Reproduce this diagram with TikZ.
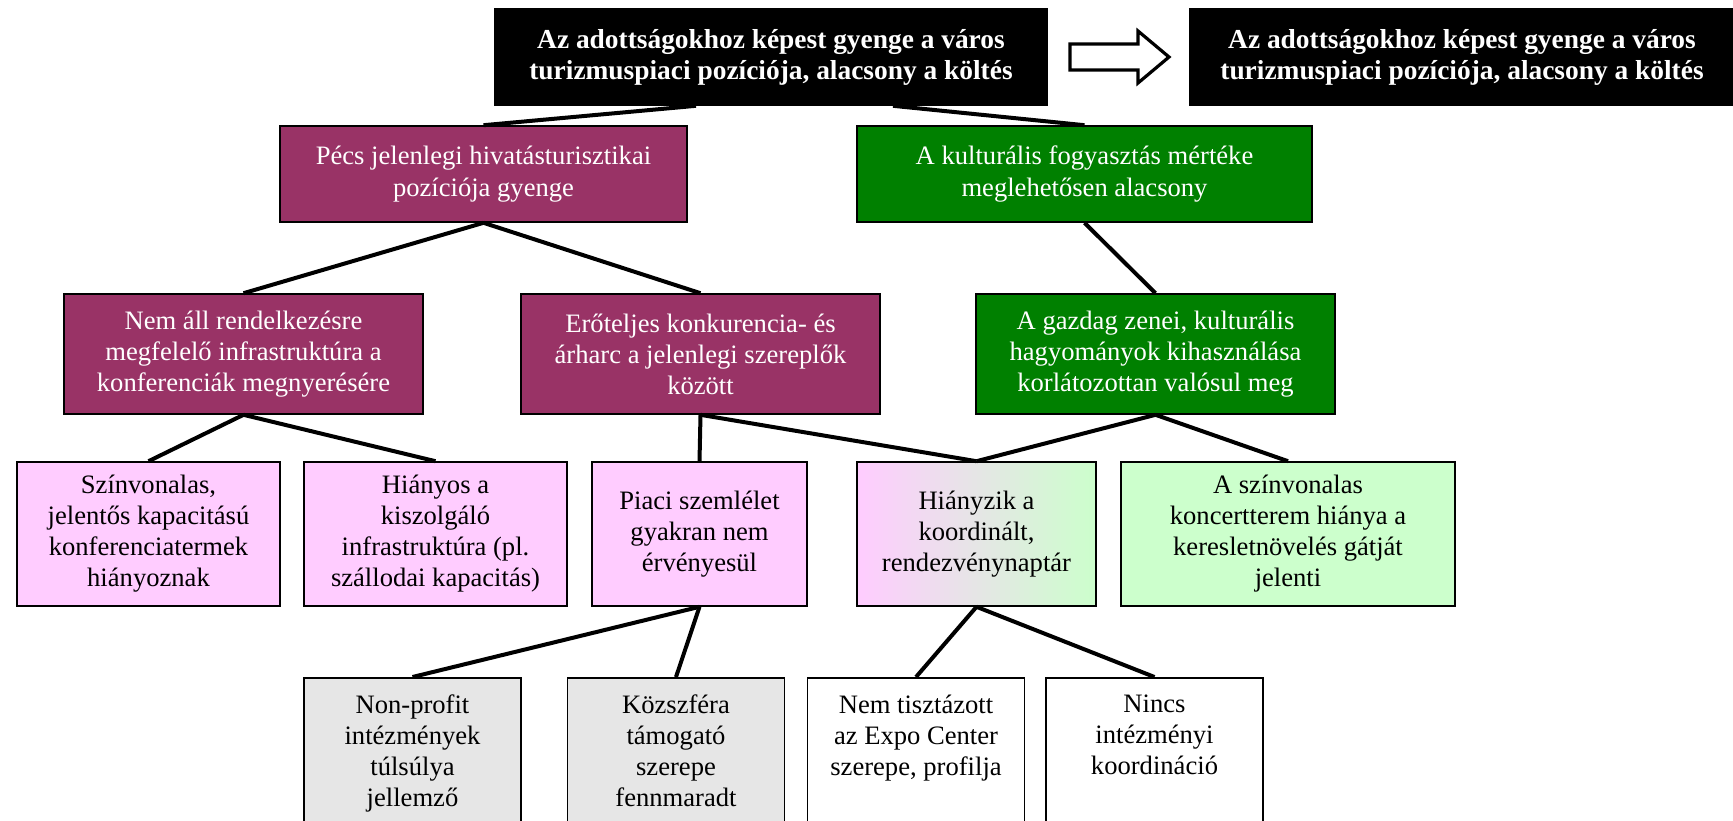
\documentclass[tikz,border=0pt]{standalone}
\usepackage{fontspec}
\setmainfont{Liberation Serif}
\usepackage{tikz}
\usetikzlibrary{calc}
\definecolor{bordo}{HTML}{993366}
\definecolor{zold}{HTML}{008000}
\definecolor{rozsa}{HTML}{FFCCFF}
\definecolor{halvzold}{HTML}{CCFFCC}
\definecolor{szurke}{HTML}{E6E6E6}
\newcommand{\felul}[1]{\parbox[t][110pt][t]{108.5pt}{\centering #1}}
\tikzset{
  box/.style={draw=black,line width=0.8pt,align=center,inner sep=0pt,
    font=\fontsize{13.3}{15.5}\selectfont},
  fekete/.style={box,fill=black,text=white,minimum width=276pt,minimum height=48pt,
    font=\bfseries\fontsize{13.7}{15.5}\selectfont},
  szint1/.style={box,text=white,minimum height=48pt,font=\fontsize{13.3}{16}\selectfont},
  szint2/.style={box,text=white,minimum width=179.5pt,minimum height=60pt},
  szint3/.style={box,minimum height=72pt},
  also/.style={box,anchor=north,minimum width=108.5pt,inner xsep=0pt,inner ysep=8.5pt},
  kapcs/.style={line width=2pt}
}
\begin{document}
\begin{tikzpicture}[x=0.5pt,y=-0.5pt]
\clip (0,0) rectangle (1733,820);
% felso sor
\node[fekete] (cel) at (771,57) {Az adottságokhoz képest gyenge a város\\turizmuspiaci pozíciója, alacsony a költés};
\node[fekete,minimum width=272pt] (cel2) at (1462,57) {Az adottságokhoz képest gyenge a város\\turizmuspiaci pozíciója, alacsony a költés};
\draw[line width=1.6pt,fill=white] (1070,44) -- (1138,44) -- (1138,31) -- (1169,57)
  -- (1138,83) -- (1138,70) -- (1070,70) -- cycle;
% elso szint
\node[szint1,fill=bordo,minimum width=203.5pt] (pecs) at (483.5,174) {Pécs jelenlegi hivatásturisztikai\\pozíciója gyenge};
\node[szint1,fill=zold,minimum width=227.5pt] (kult) at (1084.5,174) {A kulturális fogyasztás mértéke\\meglehetősen alacsony};
% masodik szint
\node[szint2,fill=bordo] (infra) at (243.5,354) {Nem áll rendelkezésre\\megfelelő infrastruktúra a\\konferenciák megnyerésére};
\node[szint2,fill=bordo] (verseny) at (700.5,354) {Erőteljes konkurencia- és\\árharc a jelenlegi szereplők\\között};
\node[szint2,fill=zold] (zene) at (1155.5,354) {A gazdag zenei, kulturális\\hagyományok kihasználása\\korlátozottan valósul meg};
% harmadik szint
\node[szint3,fill=rozsa,minimum width=131.5pt] (termek) at (148.5,534) {Színvonalas,\\jelentős kapacitású\\konferenciatermek\\hiányoznak};
\node[szint3,fill=rozsa,minimum width=131.5pt] (szallas) at (435.5,534) {Hiányos a\\kiszolgáló\\infrastruktúra (pl.\\szállodai kapacitás)};
\node[szint3,fill=rozsa,minimum width=107.5pt] (piaci) at (699.5,534) {Piaci szemlélet\\gyakran nem\\érvényesül};
\node[szint3,left color=rozsa,right color=halvzold,minimum width=119.5pt] (naptar) at (976.5,534) {Hiányzik a\\koordinált,\\rendezvénynaptár};
\node[szint3,fill=halvzold,minimum width=167pt] (koncert) at (1288,534) {A színvonalas\\koncertterem hiánya a\\keresletnövelés gátját\\jelenti};
% negyedik szint
\node[also,fill=szurke] (nonprofit) at (412.5,677) {\felul{Non-profit\\intézmények\\túlsúlya\\jellemző}};
\node[also,fill=szurke] (kozszfera) at (676,677) {\felul{Közszféra\\támogató\\szerepe\\fennmaradt}};
\node[also,fill=white] (expo) at (916,677) {\felul{Nem tisztázott\\az Expo Center\\szerepe, profilja}};
\node[also,fill=white] (intezmeny) at (1154.5,677) {\felul{Nincs\\intézményi\\koordináció}};
% kapcsolatok
\draw[kapcs] ([xshift=-37.5pt]cel.south) -- (pecs.north);
\draw[kapcs] ([xshift=61pt]cel.south) -- (kult.north);
\draw[kapcs] (pecs.south) -- (infra.north);
\draw[kapcs] (pecs.south) -- (verseny.north);
\draw[kapcs] (kult.south) -- (zene.north);
\draw[kapcs] (infra.south) -- (termek.north);
\draw[kapcs] (infra.south) -- (szallas.north);
\draw[kapcs] (verseny.south) -- (piaci.north);
\draw[kapcs] (verseny.south) -- (naptar.north);
\draw[kapcs] (zene.south) -- (naptar.north);
\draw[kapcs] (zene.south) -- (koncert.north);
\draw[kapcs] (piaci.south) -- (nonprofit.north);
\draw[kapcs] (piaci.south) -- (kozszfera.north);
\draw[kapcs] (naptar.south) -- (expo.north);
\draw[kapcs] (naptar.south) -- (intezmeny.north);
\end{tikzpicture}
\end{document}
